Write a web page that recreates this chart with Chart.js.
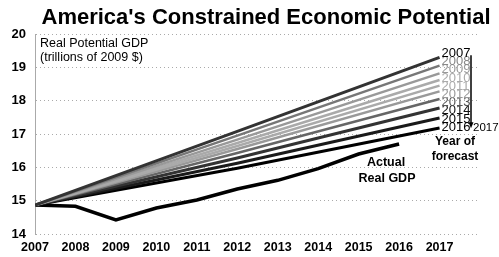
<!DOCTYPE html>
<html>
<head>
<meta charset="utf-8">
<script src="https://cdn.jsdelivr.net/npm/chart.js@4"></script>
<style>
  html, body { margin: 0; padding: 0; background: #fff; }
  #wrap { width: 499px; height: 257px; }
</style>
</head>
<body>
<div id="wrap"><canvas id="gdpChart" width="499" height="257"></canvas></div>
<script>
// actual real GDP, trillions of 2009 $
const actualYears = [2007, 2008, 2009, 2010, 2011, 2012, 2013, 2014, 2015, 2016];
const actualGDP = [14.87, 14.83, 14.42, 14.78, 15.02, 15.35, 15.61, 15.96, 16.40, 16.70];

// potential GDP forecasts, one per forecast year (read at 2007, 2012, 2017)
const forecastYears = [2007, 2008, 2009, 2010, 2011, 2012, 2013, 2014, 2015, 2016];
const forecastX = [2007, 2012, 2017];
const forecastValues = [
    [14.87, 17.08, 19.30],
    [14.87, 16.95, 19.05],
    [14.87, 16.83, 18.82],
    [14.87, 16.73, 18.62],
    [14.87, 16.64, 18.45],
    [14.87, 16.55, 18.28],
    [14.87, 16.43, 18.05],
    [14.87, 16.28, 17.78],
    [14.87, 16.12, 17.48],
    [14.87, 15.97, 17.18]
];
const xTicks = [2007, 2008, 2009, 2010, 2011, 2012, 2013, 2014, 2015, 2016, 2017];
const yTicks = [14, 15, 16, 17, 18, 19, 20];

const lineColors = ['#333', '#777', '#999', '#aaa', '#aaa', '#999', '#666', '#333', '#1a1a1a', '#000'];
const labelColors = ['#000', '#888', '#999', '#aaa', '#aaa', '#999', '#555', '#111', '#000', '#000'];
const FONT = '"Liberation Sans", Arial, sans-serif';

const datasets = forecastValues.map((vals, i) => ({
    label: String(forecastYears[i]),
    data: vals.map((v, j) => ({ x: forecastX[j], y: v })),
    borderColor: lineColors[i],
    borderWidth: (i === 0 || i >= 7) ? 3 : 2.5,
    pointRadius: 0,
    tension: 0
}));
datasets.push({
    label: 'Actual Real GDP',
    data: actualGDP.map((v, i) => ({ x: actualYears[i], y: v })),
    borderColor: '#000',
    borderWidth: 3.5,
    pointRadius: 0,
    tension: 0
});

// text overlays: title, axis note, line labels, arrow
const overlay = {
    id: 'overlay',
    afterDraw(chart) {
        const ctx = chart.ctx;
        const xs = chart.scales.x, ys = chart.scales.y;
        ctx.save();
        ctx.fillStyle = '#000';
        ctx.textBaseline = 'alphabetic';
        ctx.textAlign = 'center';
        ctx.font = 'bold 22px ' + FONT;
        ctx.fillText("America's Constrained Economic Potential", 266, 24);

        ctx.textAlign = 'left';
        ctx.textBaseline = 'middle';
        ctx.font = '12.5px ' + FONT;
        ctx.fillText('Real Potential GDP', 40, 44);
        ctx.fillText('(trillions of 2009 $)', 40, 58);

        // forecast-year labels at line ends
        const lx = xs.getPixelForValue(2017) + 2;
        const top = ys.getPixelForValue(forecastValues[0][2]) - 4;
        ctx.font = '13px ' + FONT;
        for (let i = forecastYears.length - 1; i >= 0; i--) {
            ctx.fillStyle = labelColors[i];
            ctx.fillText(String(forecastYears[i]), lx, top + i * 8.2);
        }

        // arrow down the label stack
        const ax = 471;
        const bottom = top + 9 * 8.2;
        ctx.strokeStyle = '#000';
        ctx.lineWidth = 1.5;
        ctx.beginPath();
        ctx.moveTo(ax, top + 2);
        ctx.lineTo(ax, bottom - 3);
        ctx.stroke();
        ctx.fillStyle = '#000';
        ctx.beginPath();
        ctx.moveTo(ax - 2.5, bottom - 5);
        ctx.lineTo(ax + 2.5, bottom - 5);
        ctx.lineTo(ax, bottom + 1);
        ctx.closePath();
        ctx.fill();
        ctx.font = '11.5px ' + FONT;
        ctx.fillText('2017', ax + 2, bottom + 1);

        ctx.textAlign = 'center';
        ctx.font = 'bold 12px ' + FONT;
        ctx.fillText('Year of', 455, 142);
        ctx.fillText('forecast', 455, 157);

        ctx.font = 'bold 12.5px ' + FONT;
        ctx.fillText('Actual', 386, 163);
        ctx.fillText('Real GDP', 387, 179);
        ctx.restore();
    }
};

const chart = new Chart(document.getElementById('gdpChart').getContext('2d'), {
    type: 'line',
    data: { datasets: datasets },
    options: {
        responsive: false,
        animation: false,
        layout: { padding: { top: 34, right: 19, left: 0, bottom: 0 } },
        plugins: {
            legend: { display: false },
            title: { display: false },
            tooltip: { enabled: false }
        },
        scales: {
            x: {
                type: 'linear',
                min: 2007,
                max: 2018,
                afterBuildTicks: (axis) => { axis.ticks = xTicks.map(v => ({ value: v })); },
                afterFit: (axis) => { axis.height = 23; },
                ticks: {
                    color: '#000',
                    font: { family: FONT, size: 12.5, weight: 'bold' },
                    padding: 6,
                    maxRotation: 0,
                    autoSkip: false,
                    callback: (v) => String(v)
                },
                grid: { display: false, drawTicks: false },
                border: { display: false }
            },
            y: {
                min: 14,
                max: 20,
                afterBuildTicks: (axis) => { axis.ticks = yTicks.map(v => ({ value: v })); },
                afterFit: (axis) => { axis.width = 35; },
                ticks: {
                    color: '#000',
                    font: { family: FONT, size: 13, weight: 'bold' },
                    padding: 9
                },
                grid: { color: '#aaa', lineWidth: 1, drawTicks: false },
                border: { display: true, color: '#aaa', dash: [1, 3] }
            }
        }
    },
    plugins: [overlay]
});
</script>
</body>
</html>
